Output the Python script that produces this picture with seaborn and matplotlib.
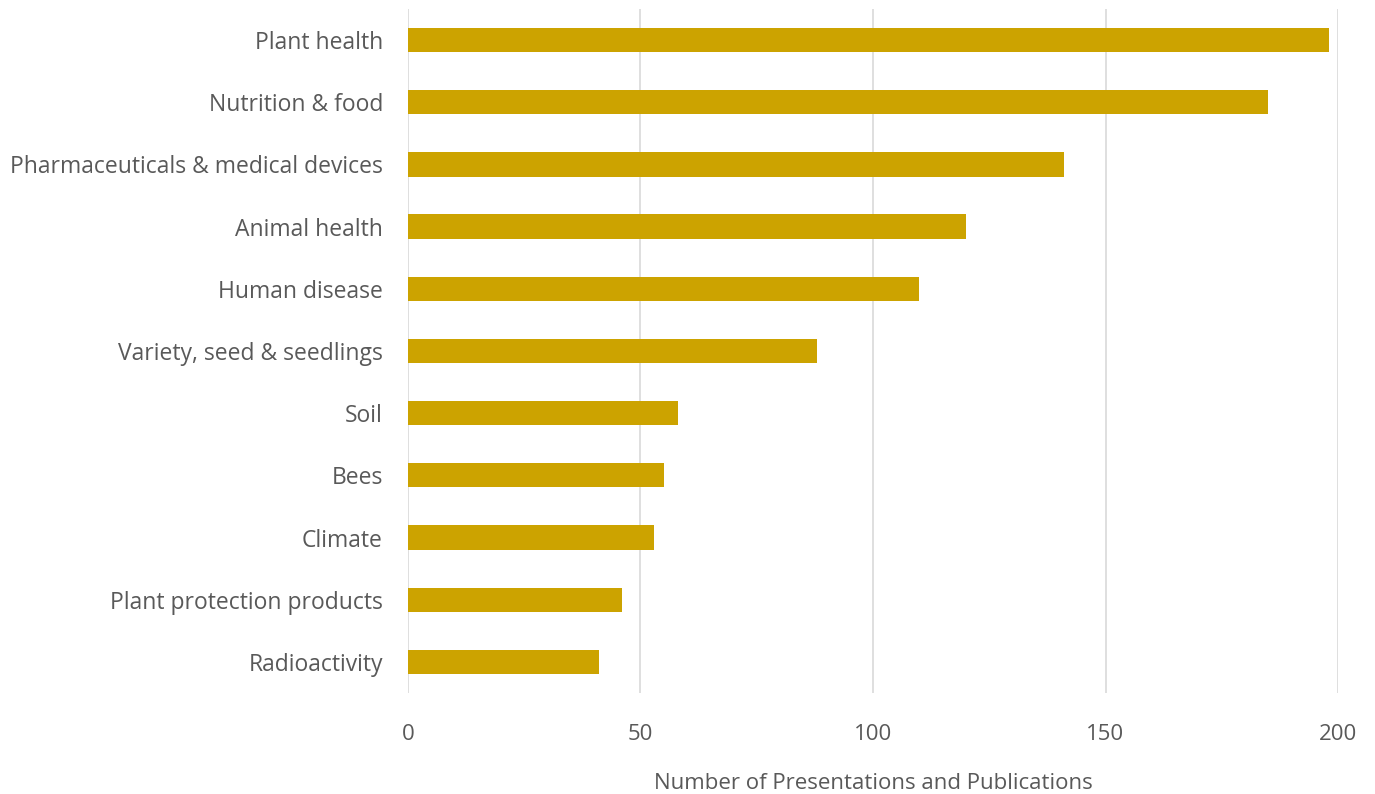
import matplotlib
matplotlib.use("Agg")
import matplotlib.pyplot as plt
import seaborn as sns
import pandas as pd

categories = ["Plant health", "Nutrition & food", "Pharmaceuticals & medical devices",
              "Animal health", "Human disease", "Variety, seed & seedlings", "Soil",
              "Bees", "Climate", "Plant protection products", "Radioactivity"]
values = [198, 185, 141, 120, 110, 88, 58, 55, 53, 46, 41]
x_ticks = [0, 50, 100, 150, 200]
x_label = "Number of Presentations and Publications"

sns.set_theme(style="white")
plt.rcParams['font.family'] = ['Open Sans', 'DejaVu Sans']
text_color = "#595959"

df = pd.DataFrame({"category": categories, "value": values})

fig = plt.figure(figsize=(13.75, 7.94), dpi=100)
ax = fig.add_axes([0.2967, 0.1272, 0.6764, 0.8615])
sns.barplot(data=df, y="category", x="value", color="#CCA300", width=0.39,
            saturation=1, linewidth=0, ax=ax, orient="h")
ax.set_xlim(0, 200)
ax.set_ylim(10.5, -0.5)
ax.set_xticks(x_ticks)
ax.xaxis.grid(True, color="#D9D9D9", linewidth=1.2)
ax.set_axisbelow(True)
for s in ax.spines.values():
    s.set_visible(False)
ax.tick_params(axis="y", length=0, labelsize=16.5, colors=text_color, pad=18)
ax.tick_params(axis="x", length=0, labelsize=16, colors=text_color, pad=22)
ax.set_ylabel("")
ax.set_xlabel(x_label, fontsize=16, color=text_color)
ax.xaxis.set_label_coords(0.5, -0.117)
fig.savefig("out.png", dpi=100)
